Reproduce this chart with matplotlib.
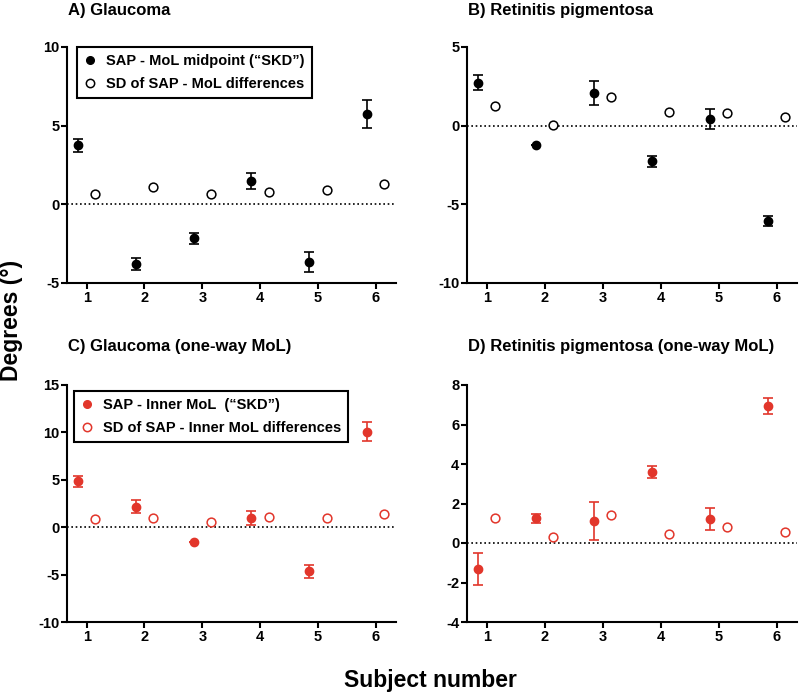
import matplotlib
matplotlib.use("Agg")
import matplotlib.pyplot as plt
from matplotlib.lines import Line2D
import numpy as np

plt.rcParams['font.family'] = ['Liberation Sans', 'DejaVu Sans']
plt.rcParams['font.weight'] = 'bold'
plt.rcParams['axes.unicode_minus'] = False

subjects = [1, 2, 3, 4, 5, 6]

# A) Glaucoma
a_skd = [3.76, -3.78, -2.17, 1.48, -3.68, 5.75]
a_skd_err = [0.42, 0.40, 0.32, 0.50, 0.65, 0.88]
a_sd = [0.63, 1.10, 0.68, 0.78, 0.91, 1.31]

# B) Retinitis pigmentosa
b_skd = [2.74, -1.23, 2.10, -2.27, 0.42, -6.05]
b_skd_err = [0.50, 0.0, 0.76, 0.34, 0.62, 0.34]
b_sd = [1.23, 0.04, 1.83, 0.85, 0.79, 0.55]

# C) Glaucoma (one-way MoL)
c_skd = [4.84, 2.15, -1.58, 0.95, -4.63, 10.08]
c_skd_err = [0.58, 0.69, 0.0, 0.72, 0.68, 0.98]
c_sd = [0.85, 1.02, 0.56, 1.09, 1.02, 1.44]

# D) Retinitis pigmentosa (one-way MoL)
d_skd = [-1.33, 1.25, 1.10, 3.59, 1.20, 6.95]
d_skd_err = [0.80, 0.23, 0.97, 0.32, 0.56, 0.40]
d_sd = [1.29, 0.32, 1.42, 0.47, 0.80, 0.56]

red = '#E2362B'

W, H = 799, 694
fig = plt.figure(figsize=(W / 100, H / 100), dpi=100)


def make_ax(left, top, right, bottom):
    return fig.add_axes([left / W, 1 - bottom / H, (right - left) / W, (bottom - top) / H])


axA = make_ax(67, 47, 396, 283)
axB = make_ax(467, 47, 797, 283)
axC = make_ax(67, 385, 396, 622)
axD = make_ax(467, 385, 797, 622)

panels = [
    (axA, a_skd, a_skd_err, a_sd, 'black', (-5, 10), [-5, 0, 5, 10], "A) Glaucoma", 11),
    (axB, b_skd, b_skd_err, b_sd, 'black', (-10, 5), [-10, -5, 0, 5], "B) Retinitis pigmentosa", 11),
    (axC, c_skd, c_skd_err, c_sd, red, (-10, 15), [-10, -5, 0, 5, 10, 15], "C) Glaucoma (one-way MoL)", 347),
    (axD, d_skd, d_skd_err, d_sd, red, (-4, 8), [-4, -2, 0, 2, 4, 6, 8], "D) Retinitis pigmentosa (one-way MoL)", 347),
]

x = np.array(subjects)
for ax, skd, err, sd, col, ylim, yticks, title, ty in panels:
    ax.axhline(0, color='black', lw=1.2, ls=(0, (1, 1.6)), zorder=1)
    ax.errorbar(x - 0.15, skd, yerr=err, fmt='o', color=col, ms=6,
                capsize=3.5, elinewidth=1.2, capthick=1.2, zorder=3)
    ax.plot(x + 0.15, sd, 'o', mfc='white', mec=col, mew=1.1, ms=6.3, ls='none', zorder=3)
    ax.set_xlim(0.66, 6.35)
    ax.set_ylim(*ylim)
    ax.set_yticks(yticks)
    ax.set_xticks(subjects)
    for s in ['top', 'right']:
        ax.spines[s].set_visible(False)
    for s in ['left', 'bottom']:
        ax.spines[s].set_linewidth(1.5)
    ax.tick_params(direction='out', length=4, width=1.5, labelsize=10.5, pad=1.5)
    for lbl in ax.get_xticklabels() + ax.get_yticklabels():
        lbl.set_fontweight('bold')
    bb = ax.get_position()
    fig.text(bb.x0 + 1 / W, 1 - ty / H, title, fontsize=12, fontweight='bold', va='center', ha='left')

    if ax is axA:
        labels = ["SAP - MoL midpoint (\u201cSKD\u201d)", "SD of SAP - MoL differences"]
        anchor = (0.03, 1.0)
    elif ax is axC:
        labels = ["SAP - Inner MoL  (\u201cSKD\u201d)", "SD of SAP - Inner MoL differences"]
        anchor = (0.02, 0.975)
    else:
        continue
    handles = [Line2D([], [], ls='none', marker='o', color=col, ms=5.5),
               Line2D([], [], ls='none', marker='o', mfc='white', mec=col, mew=1.1, ms=6)]
    leg = ax.legend(handles, labels, loc='upper left', bbox_to_anchor=anchor, borderaxespad=0,
                    prop={'weight': 'bold', 'size': 10.5}, fancybox=False, framealpha=1,
                    edgecolor='black', handlelength=0.8, handletextpad=0.7, borderpad=0.5,
                    labelspacing=0.6)
    leg.get_frame().set_linewidth(1.5)

fig.text(12 / W, 1 - 320 / H, "Degrees (\u00b0)", rotation=90, fontsize=16.5, fontweight='bold',
         ha='center', va='center')
fig.text(430 / W, 1 - 680 / H, "Subject number", fontsize=16.5, fontweight='bold',
         ha='center', va='center')

fig.savefig("out.png", dpi=100)
